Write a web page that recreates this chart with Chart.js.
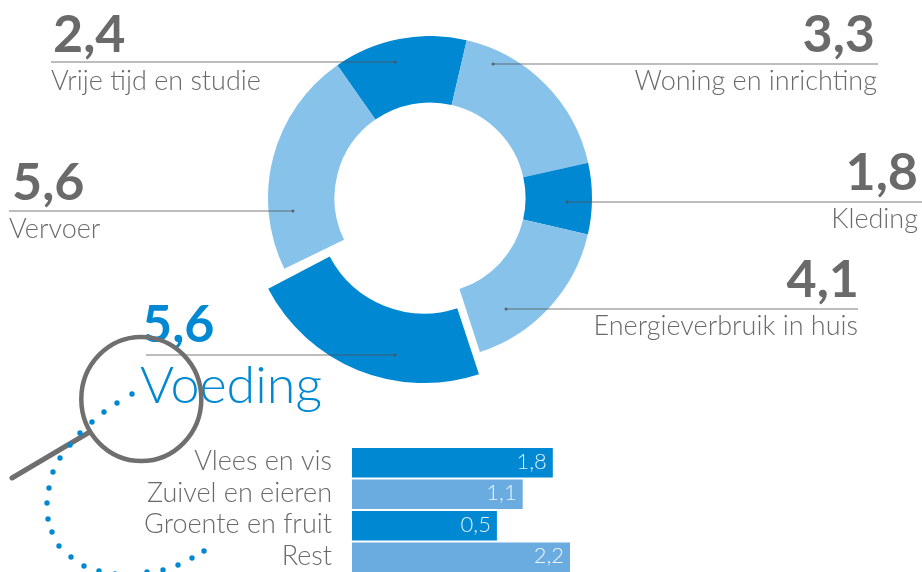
<!DOCTYPE html>
<html lang="nl">
<head>
<meta charset="utf-8">
<title>Voeding</title>
<script src="https://cdn.jsdelivr.net/npm/chart.js@4"></script>
<style>
  html, body { margin: 0; width: 922px; height: 572px; overflow: hidden; background: #fff; }
  canvas, svg { position: absolute; }
  #ring { left: 268px; top: 36px; }
  #voeding { left: 248px; top: 31px; }
  #bars { left: 100px; top: 447px; }
  #overlay { left: 0; top: 0; }
  text { font-family: Lato, sans-serif; }
  .num { font-size: 52px; font-weight: 700; fill: #6a6a6a; }
  .lab { font-size: 27px; font-weight: 300; fill: #6a6a6a; }
</style>
</head>
<body>
<canvas id="ring" width="324" height="324"></canvas>
<canvas id="voeding" width="352" height="352"></canvas>
<canvas id="bars" width="470" height="126"></canvas>
<svg id="overlay" width="922" height="572" xmlns="http://www.w3.org/2000/svg"></svg>
<script>
// Les arcs du dessin ne suivent pas les valeurs imprimées : on garde donc
// les valeurs affichées et, à part, les étendues (en degrés)
const sliceNames = ['Vrije tijd en studie', 'Woning en inrichting', 'Kleding', 'Energieverbruik in huis', 'Voeding', 'Vervoer'];
const sliceValues = ['2,4', '3,3', '1,8', '4,1', '5,6', '5,6'];
const sliceSpans = [48, 64.3, 25.6, 59, 82, 81];
const voedingSpan = [80.5, 279.5];

const barNames = ['Vlees en vis', 'Zuivel en eieren', 'Groente en fruit', 'Rest'];
const barValues = [1.8, 1.1, 0.5, 2.2];

const DARK = '#0089d2';
const LIGHT = '#87c2ea';
const BAR_LIGHT = '#6aace0';
const GREY = '#6a6a6a';

// Anneau principal, la tranche Voeding reste vide ici
new Chart(document.getElementById('ring'), {
    type: 'doughnut',
    data: {
        labels: sliceNames,
        datasets: [{
            data: sliceSpans,
            backgroundColor: [DARK, LIGHT, DARK, LIGHT, 'rgba(0,0,0,0)', LIGHT],
            borderWidth: 0
        }]
    },
    options: {
        responsive: false,
        animation: false,
        rotation: -34.9,
        cutout: '59%',
        plugins: { legend: { display: false }, tooltip: { enabled: false } }
    }
});

// Voeding sort de l'anneau, avec son propre centre et un rayon plus grand
new Chart(document.getElementById('voeding'), {
    type: 'doughnut',
    data: {
        labels: ['Voeding', ''],
        datasets: [{
            data: voedingSpan,
            backgroundColor: [DARK, 'rgba(0,0,0,0)'],
            borderWidth: 0
        }]
    },
    options: {
        responsive: false,
        animation: false,
        rotation: 161.8,
        cutout: '60.5%',
        plugins: { legend: { display: false }, tooltip: { enabled: false } }
    }
});

// Valeurs dans les barres
const barValueLabels = {
    id: 'barValueLabels',
    afterDatasetsDraw(chart) {
        const ctx = chart.ctx;
        ctx.save();
        ctx.font = '300 22px Lato, sans-serif';
        ctx.fillStyle = 'rgba(255,255,255,0.88)';
        ctx.textAlign = 'right';
        ctx.textBaseline = 'middle';
        chart.getDatasetMeta(0).data.forEach((bar, i) => {
            ctx.fillText(String(barValues[i]).replace('.', ','), bar.x - 6, bar.y - 1);
        });
        ctx.restore();
    }
};

const AXIS_MIN = -2.87; // les barres ne partent pas de zéro sur l'image
new Chart(document.getElementById('bars'), {
    type: 'bar',
    data: {
        labels: barNames,
        datasets: [{
            data: barValues,
            base: AXIS_MIN,
            backgroundColor: [DARK, BAR_LIGHT, DARK, BAR_LIGHT],
            barPercentage: 0.93,
            categoryPercentage: 1
        }]
    },
    options: {
        indexAxis: 'y',
        responsive: false,
        animation: false,
        layout: { padding: 0 },
        scales: {
            x: { display: false, min: AXIS_MIN, max: 2.2 },
            y: {
                afterFit: scale => {
                    scale.width = 252;
                    scale.paddingTop = 0;
                    scale.paddingBottom = 0;
                },
                grid: { display: false },
                border: { display: false },
                ticks: {
                    color: GREY,
                    autoSkip: false,
                    padding: 12,
                    labelOffset: -1,
                    font: { family: 'Lato, sans-serif', size: 27, weight: '300' }
                }
            }
        },
        plugins: { legend: { display: false }, tooltip: { enabled: false } }
    },
    plugins: [barValueLabels]
});

// Textes, traits de rappel et loupe
const svg = document.getElementById('overlay');
function add(tag, attrs, content) {
    const el = document.createElementNS('http://www.w3.org/2000/svg', tag);
    Object.entries(attrs).forEach(([k, v]) => el.setAttribute(k, v));
    if (content) el.textContent = content;
    svg.appendChild(el);
    return el;
}

// x1, x2, y du trait ; position du nombre et du libellé
const callouts = [
    { line: [51, 395, 62], num: [53, 52, 'start'], lab: [51, 90, 'start'] },
    { line: [493, 878, 64], num: [875, 52, 'end'], lab: [877, 90, 'end'] },
    { line: [567, 922, 202], num: [918, 190, 'end'], lab: [918, 228, 'end'] },
    { line: [506, 858, 309], num: [859, 297, 'end'], lab: [858, 335, 'end'] },
    { line: [146, 395, 355], num: [142, 342, 'start'], lab: [140, 403, 'start'] },
    { line: [9, 293, 211], num: [12, 200, 'start'], lab: [9, 238, 'start'] }
];

callouts.forEach((c, i) => {
    add('line', { x1: c.line[0], x2: c.line[1], y1: c.line[2], y2: c.line[2], stroke: 'rgba(80,80,80,0.5)', 'stroke-width': 1.5 });
    add('circle', { cx: c.line[0] > 300 ? c.line[0] : c.line[1], cy: c.line[2], r: 1.5, fill: 'rgba(80,80,80,0.8)' });
    const numEl = add('text', { x: c.num[0], y: c.num[1], 'text-anchor': c.num[2], class: 'num' }, sliceValues[i]);
    const labEl = add('text', { x: c.lab[0], y: c.lab[1], 'text-anchor': c.lab[2], class: 'lab' }, sliceNames[i]);
    if (sliceNames[i] === 'Voeding') {
        numEl.style.fill = DARK;
        labEl.style.fill = DARK;
        labEl.style.fontSize = '52px';
    }
});

// Loupe
add('ellipse', { cx: 141.3, cy: 399, rx: 60, ry: 62, fill: 'none', stroke: '#6f6f6f', 'stroke-width': 4.5 });
add('line', { x1: 88, y1: 433, x2: 12, y2: 478, stroke: '#6f6f6f', 'stroke-width': 5, 'stroke-linecap': 'round' });

// Pointillés décoratifs autour de la loupe
const dots = [
    [132, 394], [117, 403], [104, 412], [92, 422], [80, 433], [70, 445], [60, 458], [53, 472],
    [49, 488], [47, 503], [48, 519], [52, 532], [59, 546], [71, 557], [84, 566], [99, 571],
    [115, 574], [147, 572], [163, 570], [178, 565], [192, 558], [204, 551]
];
dots.forEach(d => add('circle', { cx: d[0], cy: d[1], r: 2.7, fill: DARK }));
</script>
</body>
</html>
